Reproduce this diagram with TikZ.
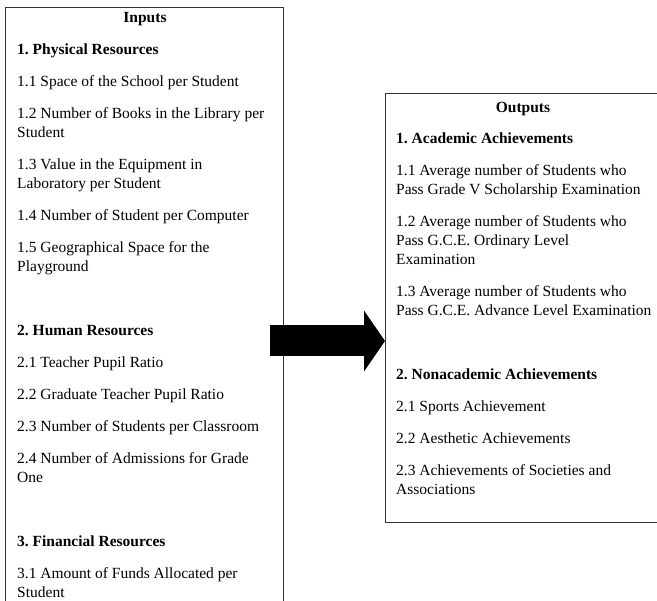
\documentclass[tikz,border=0pt]{standalone}
\usepackage{fontspec}
\setmainfont{Liberation Serif}
\usetikzlibrary{arrows.meta}
\frenchspacing

\begin{document}
\begin{tikzpicture}[x=1pt, y=-1pt,
		frame/.style={draw=black!80, line width=1.3pt, inner sep=0pt, anchor=north west},
		heading/.style={font=\fontsize{15.5}{19}\selectfont\bfseries, inner sep=0pt, anchor=base},
		itemlist/.style={font=\fontsize{15.5}{19}\selectfont, align=left, inner sep=0pt, anchor=north west},
		bigarrow/.style={line width=31pt, -{Triangle[length=21pt, width=60pt]}}]
		\clip (0, 0) rectangle (657, 601);
		
		% inputs
		\node[frame, minimum width=278pt, minimum height=620pt] (inbox) at (5, 7) {};
		\node[heading] (intitle) at (145, 23) {Inputs};
		\node[itemlist] (inlist) at (17, 44) {\textbf{1. Physical Resources}\\[13pt]
			1.1 Space of the School per Student\\[13pt]
			1.2 Number of Books in the Library per\\
			Student\\[13pt]
			1.3 Value in the Equipment in\\
			Laboratory per Student\\[13pt]
			1.4 Number of Student per Computer\\[13pt]
			1.5 Geographical Space for the\\
			Playground\\[13pt]
			\mbox{}\\[13pt]
			\textbf{2. Human Resources}\\[13pt]
			2.1 Teacher Pupil Ratio\\[13pt]
			2.2 Graduate Teacher Pupil Ratio\\[13pt]
			2.3 Number of Students per Classroom\\[13pt]
			2.4 Number of Admissions for Grade\\
			One\\[13pt]
			\mbox{}\\[13pt]
			\textbf{3. Financial Resources}\\[13pt]
			3.1 Amount of Funds Allocated per\\
			Student};
		
		% outputs
		\node[frame, minimum width=280pt, minimum height=429pt] (outbox) at (385, 93) {};
		\node[heading] (outtitle) at (523, 113) {Outputs};
		\node[itemlist] (outlist) at (396, 133) {\textbf{1. Academic Achievements}\\[13pt]
			1.1 Average number of Students who\\
			Pass Grade V Scholarship Examination\\[13pt]
			1.2 Average number of Students who\\
			Pass G.C.E. Ordinary Level\\
			Examination\\[13pt]
			1.3 Average number of Students who\\
			Pass G.C.E. Advance Level Examination\\[13pt]
			\mbox{}\\[13pt]
			\textbf{2. Nonacademic Achievements}\\[13pt]
			2.1 Sports Achievement\\[13pt]
			2.2 Aesthetic Achievements\\[13pt]
			2.3 Achievements of Societies and\\
			Associations};
		
		\coordinate (arrowtail) at (270, 341);
		\draw[bigarrow] (arrowtail) -- (outbox.west |- arrowtail);
	\end{tikzpicture}
\end{document}
